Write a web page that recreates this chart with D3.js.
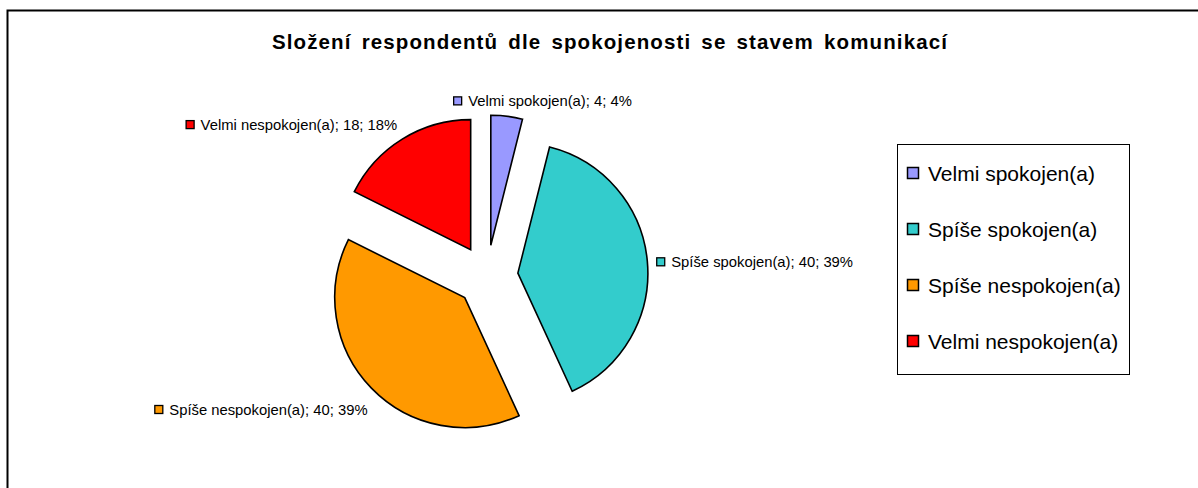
<!DOCTYPE html>
<html>
<head>
<meta charset="utf-8">
<script src="https://cdnjs.cloudflare.com/ajax/libs/d3/7.8.5/d3.min.js"></script>
<style>
  body { margin: 0; background: #fff; }
  svg { display: block; font-family: "Liberation Sans", Arial, sans-serif; }
</style>
</head>
<body>
<svg id="chart"></svg>
<script>
// data
var categories = ["Velmi spokojen(a)", "Spíše spokojen(a)", "Spíše nespokojen(a)", "Velmi nespokojen(a)"];
var counts = [4, 40, 40, 18];
var percents = ["4%", "39%", "39%", "18%"];
var colors = ["#9999ff", "#33cccc", "#ff9900", "#ff0000"];
var title = "Složení respondentů dle spokojenosti se stavem komunikací";

var width = 1198, height = 488;
var cx = 487, cy = 276, radius = 130, explode = 31;
// little nudges so the data labels sit where the original put them
var labelNudge = [[33, 5, "middle"], [-11, 3, "start"], [10, 8, "end"], [5, 3, "end"]];

var svg = d3.select("#chart").attr("width", width).attr("height", height);

// outer frame (runs off the right and bottom edges)
svg.append("rect")
   .attr("x", 7.5).attr("y", 10.5)
   .attr("width", 1300).attr("height", 600)
   .attr("fill", "none").attr("stroke", "#000").attr("stroke-width", 2);

var titleText = svg.append("text")
   .attr("x", 610).attr("y", 49)
   .attr("text-anchor", "middle")
   .attr("font-weight", "bold")
   .attr("font-size", 20.5)
   .text(title);
// the original title is spread out a bit: share the extra width between letters and word gaps
var natural = titleText.node().getComputedTextLength();
var gaps = title.split(" ").length - 1;
var ls = Math.max(0, (676 - natural) / (title.length + 3 * gaps));
titleText.attr("letter-spacing", ls).attr("word-spacing", 3 * ls);

var pie = d3.pie().sort(null).value(function(d) { return d; });
var arcs = pie(counts);
var arc = d3.arc().innerRadius(0).outerRadius(radius);

var chart = svg.append("g").attr("transform", "translate(" + cx + "," + cy + ")");

function dir(a) { return [Math.sin(a), -Math.cos(a)]; }

chart.selectAll("path.slice").data(arcs).enter().append("path")
     .attr("class", "slice")
     .attr("d", arc)
     .attr("transform", function(d) {
        var m = dir((d.startAngle + d.endAngle) / 2);
        return "translate(" + (m[0] * explode) + "," + (m[1] * explode) + ")";
     })
     .attr("fill", function(d, i) { return colors[i]; })
     .attr("stroke", "#000")
     .attr("stroke-width", 1.6);

// data labels
arcs.forEach(function(d, i) {
  var m = dir((d.startAngle + d.endAngle) / 2);
  var rr = radius + explode + 20;
  var ax = m[0] * rr + labelNudge[i][0];
  var ay = m[1] * rr + labelNudge[i][1];
  var g = chart.append("g");
  g.append("rect").attr("x", 0.5).attr("y", -4.5).attr("width", 8).attr("height", 8)
   .attr("fill", colors[i]).attr("stroke", "#000").attr("stroke-width", 1.3);
  g.append("text").attr("x", 15).attr("y", 5).attr("font-size", 14.8).attr("fill", "#000")
   .text(categories[i] + "; " + counts[i] + "; " + percents[i]);
  var w = g.node().getBBox().width;
  var left = labelNudge[i][2] === "start" ? ax : labelNudge[i][2] === "end" ? ax - w : ax - w / 2;
  g.attr("transform", "translate(" + left + "," + ay + ")");
});

// legend
var legend = svg.append("g").attr("transform", "translate(897,144)");
legend.append("rect").attr("x", 0.5).attr("y", 0.5).attr("width", 232).attr("height", 230)
      .attr("fill", "#fff").attr("stroke", "#000").attr("stroke-width", 1);

var ly = d3.scalePoint().domain(categories).range([29, 197]);

var items = legend.selectAll("g.item").data(categories).enter().append("g")
      .attr("class", "item")
      .attr("transform", function(d) { return "translate(0," + ly(d) + ")"; });
items.append("rect").attr("x", 10.5).attr("y", -5.5).attr("width", 11).attr("height", 11)
     .attr("fill", function(d, i) { return colors[i]; })
     .attr("stroke", "#000").attr("stroke-width", 1.5);
items.append("text").attr("x", 31).attr("y", 7.5).attr("font-size", 21).attr("fill", "#000")
     .text(function(d) { return d; });
</script>
</body>
</html>
